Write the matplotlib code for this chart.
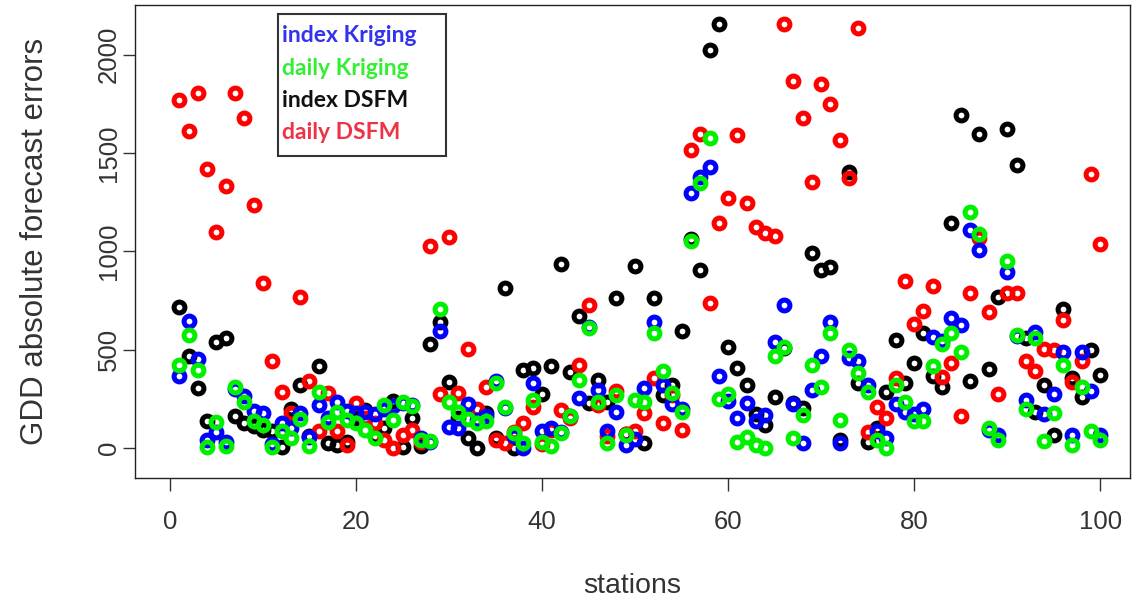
import numpy as np
import matplotlib
matplotlib.use("Agg")
import matplotlib.pyplot as plt
from matplotlib.patches import Rectangle

plt.rcParams['font.family'] = ['Liberation Sans', 'DejaVu Sans']

# absolute forecast errors per station (stations 1..100)
stations = np.arange(1, 101)

index_kriging = [365, 645, 450, 40, 80, 30, 300, 265, 190, 175,
                 20, 125, 100, 175, 55, 220, 150, 235, 190, 175,
                 180, 170, 200, 215, 230, 220, 50, 30, 595, 105,
                 100, 225, 140, 160, 340, 205, 60, 0, 330, 85,
                 100, 80, 160, 255, 615, 295, 85, 185, 15, 45,
                 305, 640, 320, 225, 200, 1295, 1380, 1430, 365, 240,
                 150, 230, 135, 165, 540, 725, 225, 25, 295, 465,
                 640, 25, 455, 440, 320, 85, 50, 225, 185, 170,
                 200, 565, 545, 660, 625, 1110, 1005, 90, 65, 895,
                 570, 245, 590, 170, 275, 490, 65, 490, 290, 65]

daily_kriging = [420, 575, 395, 5, 130, 10, 310, 235, 135, 115,
                 5, 85, 50, 145, 10, 285, 130, 185, 140, 125,
                 90, 50, 220, 140, 235, 215, 40, 35, 705, 235,
                 185, 145, 125, 135, 330, 210, 75, 25, 245, 30,
                 10, 75, 160, 345, 610, 235, 25, 270, 65, 245,
                 235, 585, 390, 280, 185, 1050, 1350, 1575, 250, 275,
                 30, 55, 15, 0, 465, 515, 50, 165, 420, 310,
                 585, 140, 500, 380, 285, 40, 0, 320, 235, 135,
                 135, 415, 530, 585, 490, 1200, 1090, 100, 40, 950,
                 575, 200, 560, 35, 175, 420, 15, 310, 85, 40]

index_dsfm = [715, 465, 305, 135, 540, 560, 160, 125, 110, 90,
              85, 5, 200, 320, 60, 415, 25, 15, 30, 150,
              195, 60, 100, 240, 5, 150, 10, 530, 640, 335,
              150, 50, 0, 175, 50, 815, 0, 395, 405, 275,
              415, 935, 385, 670, 230, 345, 235, 760, 70, 925,
              25, 760, 270, 320, 595, 1065, 905, 2025, 2155, 515,
              405, 320, 170, 115, 260, 510, 230, 205, 990, 905,
              920, 40, 1405, 330, 30, 100, 285, 550, 330, 430,
              585, 365, 310, 1145, 1695, 340, 1595, 400, 770, 1620,
              1440, 560, 180, 320, 65, 705, 355, 260, 500, 370]

daily_dsfm = [1770, 1610, 1805, 1420, 1100, 1330, 1805, 1680, 1235, 838,
              440, 285, 175, 770, 340, 85, 280, 85, 15, 230,
              150, 125, 40, 0, 65, 90, 30, 1025, 275, 1075,
              280, 505, 200, 310, 40, 25, 80, 125, 210, 20,
              90, 195, 150, 420, 725, 220, 60, 290, 70, 85,
              175, 355, 125, 270, 90, 1515, 1595, 735, 1145, 1270,
              1590, 1245, 1125, 1095, 1080, 2155, 1865, 1680, 1355, 1850,
              1750, 1565, 1375, 2135, 80, 210, 150, 355, 850, 630,
              695, 825, 360, 430, 160, 790, 1070, 690, 275, 790,
              790, 440, 390, 505, 500, 650, 335, 440, 1395, 1035]

fig = plt.figure(figsize=(11.34, 6.05), dpi=100)
ax = fig.add_axes([0.119, 0.210, 0.8775, 0.782])

ring = dict(marker='o', linestyle='none', markersize=7.8,
            markerfacecolor='none', markeredgewidth=3.6)
ax.plot(stations, index_dsfm, markeredgecolor='black', **ring)
ax.plot(stations, daily_dsfm, markeredgecolor='#ff0000', **ring)
ax.plot(stations, index_kriging, markeredgecolor='#0000ff', **ring)
ax.plot(stations, daily_kriging, markeredgecolor='#00f000', **ring)

ax.set_xlim(-3.76, 103.2)
ax.set_ylim(-153, 2254)
ax.set_xticks([0, 20, 40, 60, 80, 100])
ax.set_yticks([0, 500, 1000, 1500, 2000])
ax.tick_params(axis='both', direction='out', length=9, width=1,
               color='#333333', labelcolor='#333333', labelsize=18.5)
ax.tick_params(axis='x', pad=14)
ax.tick_params(axis='y', pad=1)
for lab in ax.get_yticklabels():
    lab.set_rotation(90)
    lab.set_va('center')
for sp in ax.spines.values():
    sp.set_color('#222222')
    sp.set_linewidth(1.0)

ax.set_xlabel('stations', fontsize=20.5, color='#333333', labelpad=28)
ax.set_ylabel('GDD absolute forecast errors', fontsize=22.5,
              color='#333333', labelpad=34)

# legend box with coloured labels
ax.add_patch(Rectangle((0.1437, 0.681), 0.169, 0.300, transform=ax.transAxes,
                       fill=False, edgecolor='#333333', linewidth=1.5, zorder=5))
legend_items = [('index Kriging', '#3333ee'),
                ('daily Kriging', '#33ee33'),
                ('index DSFM', '#111111'),
                ('daily DSFM', '#ee3344')]
for k, (txt, col) in enumerate(legend_items):
    ax.text(0.1477, 0.9345 - k * 0.0684, txt, transform=ax.transAxes,
            color=col, fontsize=16.5, fontweight='bold', family='Lato',
            va='center', ha='left', zorder=6)

fig.savefig('out.png', dpi=100)
